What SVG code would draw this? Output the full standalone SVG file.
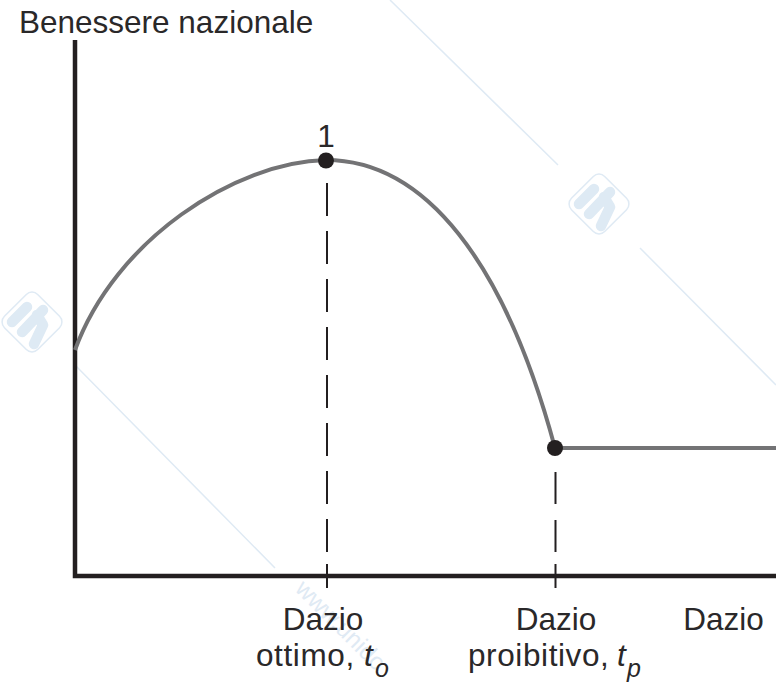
<svg xmlns="http://www.w3.org/2000/svg" width="776" height="682" viewBox="0 0 776 682">
<style>
text{font-family:"Liberation Sans",Arial,sans-serif;font-size:31.5px;fill:#2a2829}
.it{font-style:italic}
.sub{font-style:italic;font-size:25px}
.mid{text-anchor:middle}
.ls{letter-spacing:.6px}
.wm{fill:none;stroke:#dfeaf4;stroke-width:1.5}
.wb{fill:none;stroke:#deeaf4;stroke-width:10.500;stroke-linecap:round;stroke-linejoin:round}
.wt{font-size:24px;fill:#dfeaf4}
.ax{fill:none;stroke:#231f20;stroke-width:4.500}
.cv{fill:none;stroke:#737375;stroke-width:4}
.ds{fill:none;stroke:#231f20;stroke-width:2}
.dot{fill:#231f20}
</style>
<defs>
<g id="logo">
<rect x="-23.500" y="-23.500" width="47" height="47" rx="8" transform="rotate(45)" class="wm"/>
<path class="wb" d="M-20 0L-5 -15M-10 10L11 -12M2 22L11 3L5 -7"/>
</g>
</defs>
<g id="watermark">
<path class="wm" d="M390 0L558 165M640 248L776 385M75 365L275 568"/>
<use href="#logo" x="32" y="322"/>
<use href="#logo" x="599" y="204"/>
<text class="wt" transform="translate(294 590) rotate(45)">www.unido</text>
</g>
<g id="connectors">
<path class="ds" d="M327 183V216M327 231V264M327 279V312M327 327V360M327 375V408M327 423V456M327 471V504M327 519V552M327 564V588"/>
<path class="ds" d="M555.500 472V504M555.500 520V552M555.500 564V588"/>
</g>
<g id="axes"><path class="ax" d="M75 40V576H776"/></g>
<g id="curve"><path class="cv" d="M75 350C115 240 235 162 326 160C425 160 505 262 555 448H776"/></g>
<g id="point-1"><circle class="dot" cx="326" cy="160.500" r="8"/><text class="mid" x="326" y="147">1</text></g>
<g id="point-2"><circle class="dot" cx="555" cy="448" r="8"/></g>
<g id="y-label"><text x="19" y="33">Benessere nazionale</text></g>
<g id="label-optimal"><text class="mid" x="323" y="630">Dazio</text><text class="ls" x="256" y="666">ottimo,</text><text class="it" x="364" y="666">t</text><text class="sub" x="375" y="677">o</text></g>
<g id="label-prohibitive"><text class="mid" x="556" y="630">Dazio</text><text class="ls" x="468" y="666">proibitivo,</text><text class="it" x="617" y="666">t</text><text class="sub" x="627" y="677">p</text></g>
<g id="label-tariff"><text class="mid" x="723.500" y="630">Dazio</text></g>
</svg>
